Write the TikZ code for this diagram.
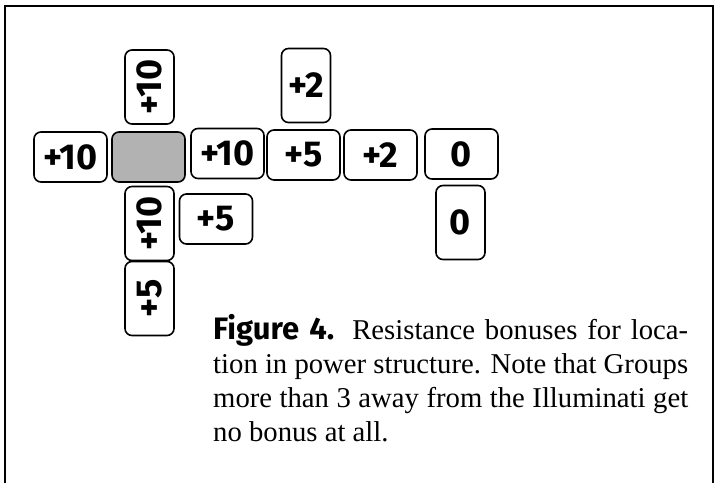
\documentclass[tikz,border=0pt]{standalone}
\usepackage{fontspec}
\setmainfont{Liberation Serif}
\newfontfamily\tilefont{Fira Sans}

\begin{document}
\begin{tikzpicture}[x=1pt, y=-1pt,
		tile/.style={draw, line width=1.6pt, rounded corners=7pt, fill=white,
			minimum width=73pt, minimum height=50pt, inner sep=0pt,
			font=\tilefont\bfseries\fontsize{36}{36}\selectfont},
		vtile/.style={tile, minimum width=74pt, minimum height=49pt, rotate=90}]
		\useasboundingbox (0,0) rectangle (715,485);

		% Frame round the figure
		\draw[line width=2pt] (5,483) -- (5,6) -- (713,6) -- (713,483);

		% Illuminati and the row through it
		\node[tile, fill=black!30] (illum) at (148.5,157) {};
		\node[tile] (w10) at (70.5,157) {+10};
		\node[tile] (e10) at (227.5,153.5) {+10};
		\node[tile] (e5) at (303.5,155) {+5};
		\node[tile] (e2) at (380.5,155) {+2};
		\node[tile] (e0) at (461.5,154) {0};

		% Groups above and below
		\node[vtile] (n10) at (149.5,87) {+10};
		\node[vtile] (n2) at (306,85.5) {\rotatebox{-90}{+2}};
		\node[vtile] (s10) at (149.5,223.5) {+10};
		\node[vtile] (s5) at (149.5,298.5) {+5};
		\node[tile] (se5) at (216,219) {+5};
		\node[vtile] (s0) at (460.5,222.5) {\rotatebox{-90}{0}};

		% Caption
		\node[anchor=north west, inner sep=0pt, text width=475pt, align=justify,
			font=\fontsize{28.7}{34}\selectfont] (caption) at (213,314)
			{{\tilefont\bfseries\fontsize{31}{34}\selectfont Figure 4.} Resistance bonuses for loca-\linebreak
			tion in power structure. Note that Groups\linebreak
			more than 3 away from the Illuminati get\linebreak
			no bonus at all.};
	\end{tikzpicture}
\end{document}
